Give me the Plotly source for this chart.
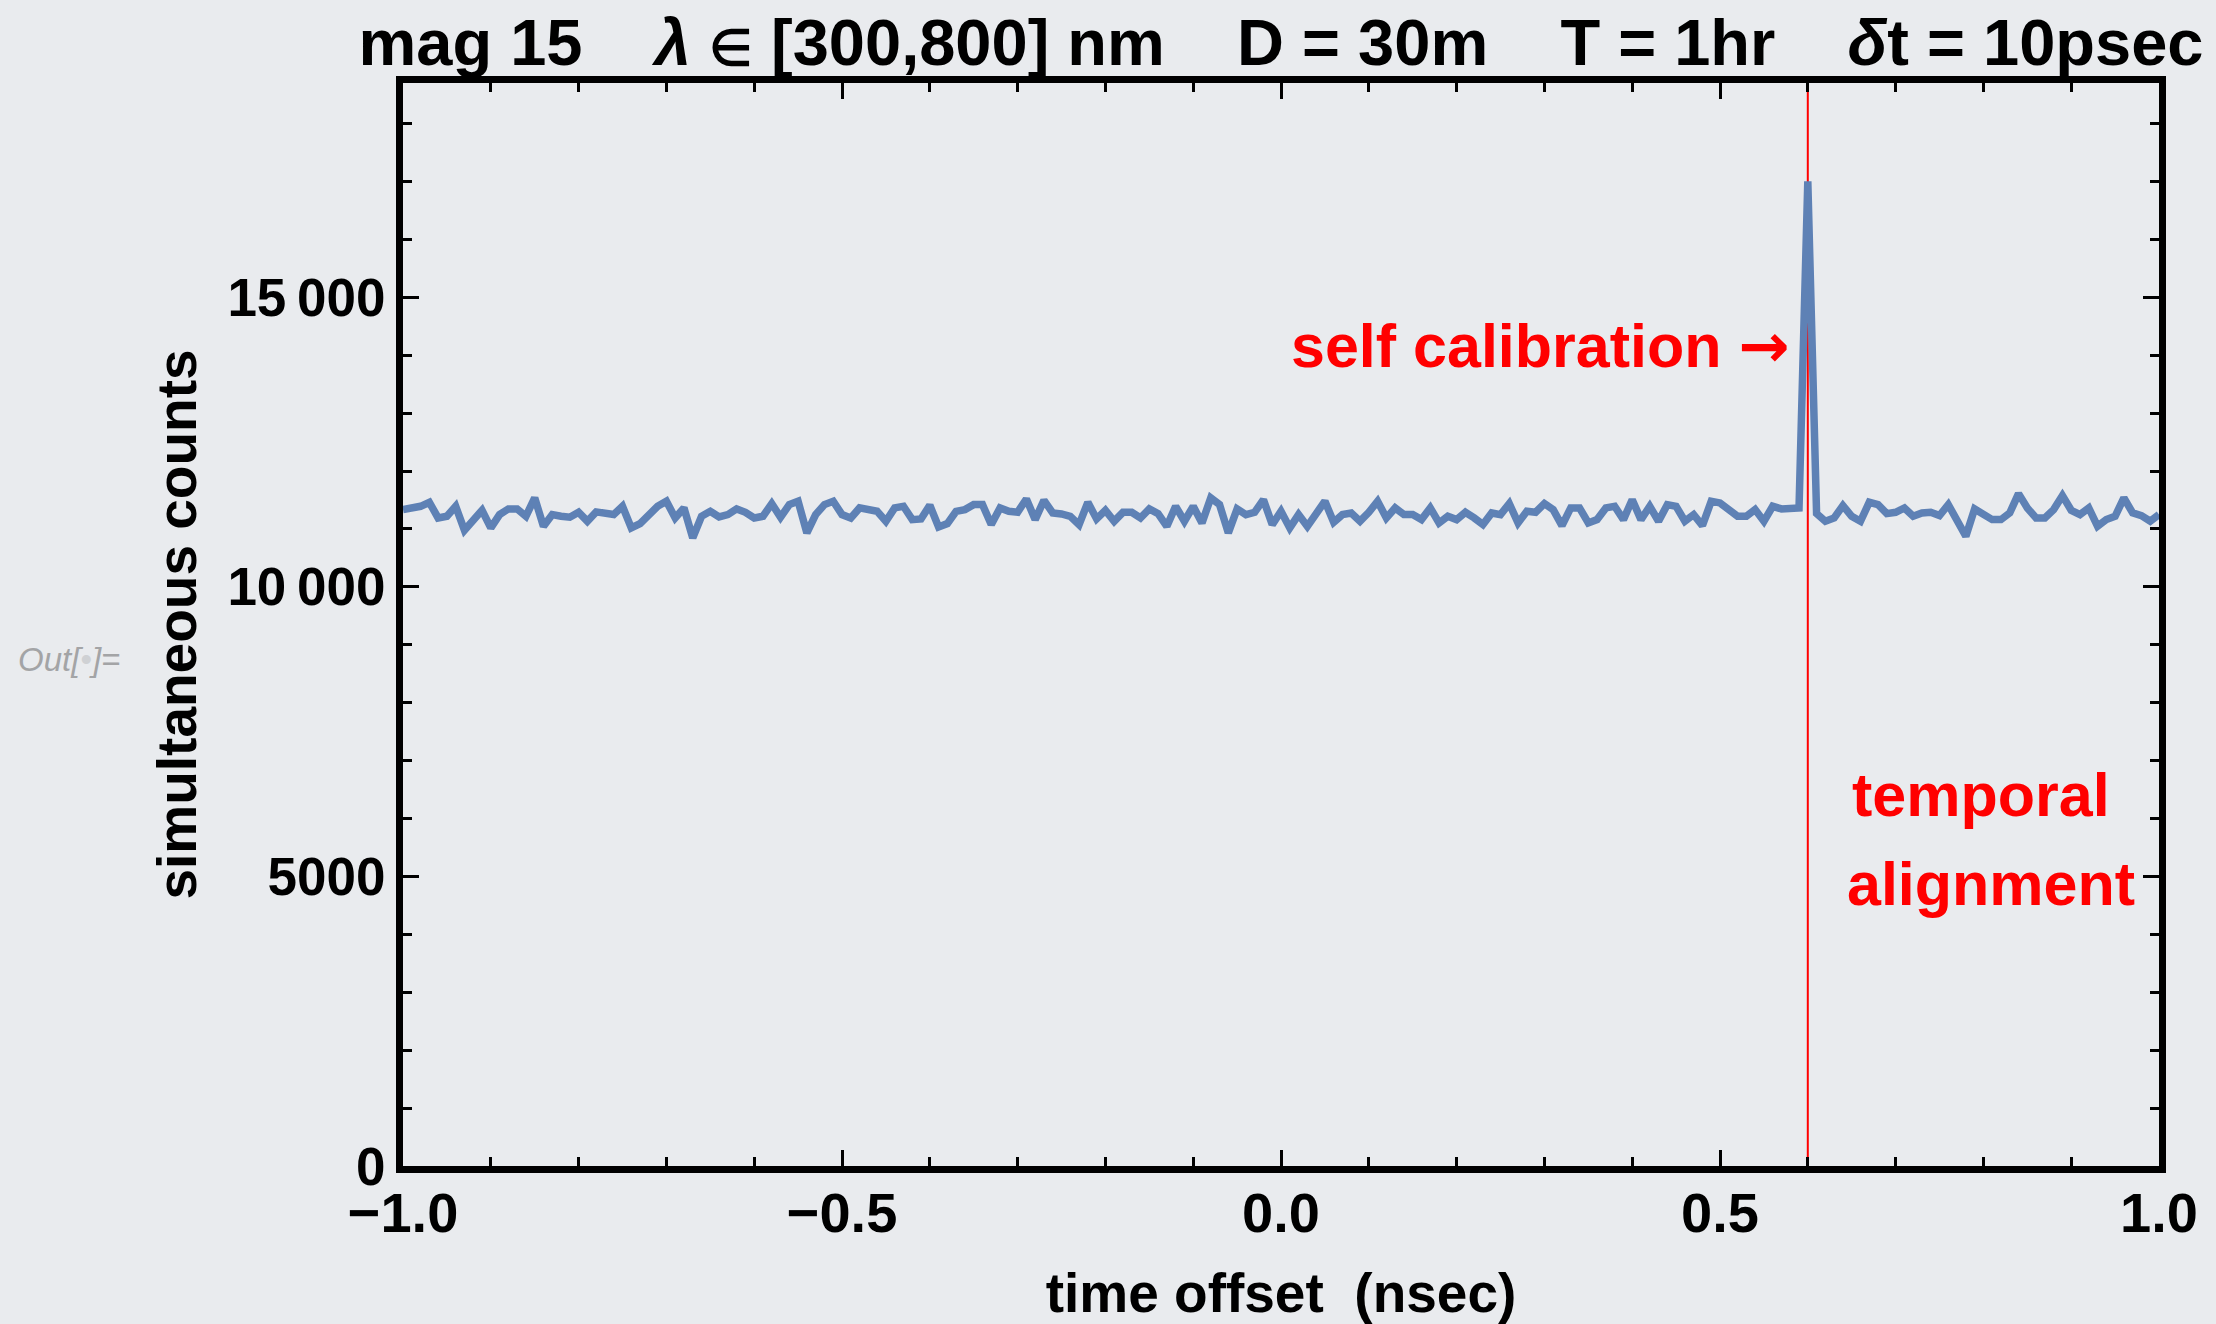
import plotly.graph_objects as go

# ---------------- data ----------------
# time-offset bins (nsec): 10 ps bins from -1.0 to +1.0 ns
bin_start = -1.0
bin_width = 0.01
n_bins = 201

counts = [
    # -1.00 .. -0.60
    11334, 11363, 11391, 11460, 11190, 11219, 11391, 10978, 11173, 11322,
    11018, 11248, 11345, 11345, 11219, 11535, 11046, 11248, 11219, 11202,
    11288, 11133, 11294, 11265, 11248, 11391, 11018, 11092, 11248, 11391,
    11478, 11190, 11363, 10845, 11219, 11305, 11207, 11248, 11345, 11288,
    11190,
    # -0.59 .. -0.21
    11219, 11437, 11202, 11420, 11478, 10932, 11248, 11420, 11478, 11248,
    11190, 11363, 11322, 11305, 11133, 11363, 11391, 11161, 11173, 11409,
    11035, 11092, 11305, 11334, 11420, 11420, 11075, 11363, 11305, 11288,
    11518, 11161, 11495, 11276, 11259, 11219, 11075, 11460, 11173,
    # -0.20 .. 0.19
    11322, 11133, 11288, 11288, 11190, 11345, 11265, 11046, 11391, 11133,
    11391, 11104, 11535, 11420, 10932, 11345, 11248, 11288, 11506, 11075,
    11305, 11018, 11248, 11046, 11276, 11478, 11115, 11248, 11276, 11133,
    11288, 11478, 11190, 11363, 11248, 11248, 11161, 11363, 11104, 11219,
    # 0.20 .. 0.59
    11161, 11288, 11190, 11075, 11276, 11248, 11437, 11104, 11305, 11288,
    11437, 11334, 11058, 11363, 11363, 11104, 11161, 11363, 11391, 11161,
    11506, 11161, 11391, 11133, 11420, 11391, 11133, 11248, 11058, 11478,
    11449, 11334, 11219, 11219, 11334, 11133, 11391, 11345, 11363, 11363,
    # 0.60 (calibration peak)
    17000,
    # 0.61 .. 1.00
    11265, 11133, 11190, 11403, 11219, 11133, 11460, 11420, 11265, 11288,
    11363, 11219, 11276, 11288, 11230, 11420, 11161, 10874, 11345, 11248,
    11161, 11161, 11276, 11610, 11363, 11190, 11190, 11334, 11575, 11322,
    11248, 11363, 11046, 11161, 11219, 11535, 11276, 11230, 11133, 11248,
]

time_offsets = [round(bin_start + bin_width * i, 2) for i in range(n_bins)]

calib_offset = 0.6          # nsec, marked temporal alignment
x_range = [-1.0, 1.0]
y_range = [0, 18700]

y_tick_vals = [0, 5000, 10000, 15000]
y_tick_text = ["0", "5000", "10\u2009000", "15\u2009000"]

GAP = "\u00a0" * 4
title_text = ("mag 15" + GAP + "<i>λ</i> <span style='font-size:50px'>∈</span> [300,800] nm" + GAP +
              "D = 30m" + GAP + "T = 1hr" + GAP + "<i>δ</i>t = 10psec")
x_title = "time offset\u00a0\u00a0(nsec)"
y_title = "simultaneous counts"

# ---------------- styling ----------------
FONT = "Liberation Sans, Arial, Helvetica, sans-serif"
BG = "#e9ebee"
LINE_BLUE = "#5e81b5"
RED = "#ff0000"

fig = go.Figure()

# temporal alignment marker (drawn under the data line)
fig.add_trace(go.Scatter(
    x=[calib_offset, calib_offset], y=y_range,
    mode="lines", line=dict(color=RED, width=2),
    hoverinfo="skip", showlegend=False,
))

fig.add_trace(go.Scatter(
    x=time_offsets, y=counts,
    mode="lines", line=dict(color=LINE_BLUE, width=7.5),
    showlegend=False,
))

axis_common = dict(
    showline=True, linewidth=7, linecolor="black", mirror="allticks",
    ticks="inside", tickwidth=3, tickcolor="black",
    showgrid=False, zeroline=False, automargin=False,
)

fig.update_xaxes(
    range=x_range, tick0=-1.0, dtick=0.5, tickformat=".1f", ticklen=16,
    ticklabelstandoff=-8,
    tickfont=dict(family=FONT, size=56, color="black", weight="bold"),
    minor=dict(ticks="inside", ticklen=9, tickwidth=3, tickcolor="black",
               tick0=0, dtick=0.1, showgrid=False),
    title=dict(text=x_title, standoff=36,
               font=dict(family=FONT, size=55, color="black", weight="bold")),
    **axis_common,
)
fig.update_yaxes(
    range=y_range, tickmode="array", tickvals=y_tick_vals, ticktext=y_tick_text,
    ticklen=16,
    tickfont=dict(family=FONT, size=53, color="black", weight="bold"),
    minor=dict(ticks="inside", ticklen=9, tickwidth=3, tickcolor="black",
               tick0=0, dtick=1000, showgrid=False),
    title=dict(text=y_title, standoff=16,
               font=dict(family=FONT, size=55, color="black", weight="bold")),
    **axis_common,
)

fig.update_layout(
    width=2216, height=1324,
    margin=dict(l=403, r=57, t=83, b=158, pad=0),
    paper_bgcolor=BG, plot_bgcolor="rgba(0,0,0,0)",
    showlegend=False,
    font=dict(family=FONT, color="black"),
    title=dict(text=title_text, x=0.5, xref="paper", xanchor="center",
               y=1 - 42 / 1324, yref="container", yanchor="middle",
               font=dict(family=FONT, size=65, color="black", weight="bold")),
)

red_font = dict(family=FONT, size=61, color=RED, weight="bold")
fig.add_annotation(x=0.582, y=14160, xref="x", yref="y",
                   text="self calibration <span style='font-family:DejaVu Sans'>→</span>",
                   showarrow=False, xanchor="right", yanchor="middle", font=red_font)
fig.add_annotation(x=0.797, y=6406, xref="x", yref="y", text="temporal",
                   showarrow=False, xanchor="center", yanchor="middle", font=red_font)
fig.add_annotation(x=0.8085, y=4870, xref="x", yref="y", text="alignment",
                   showarrow=False, xanchor="center", yanchor="middle", font=red_font)

fig.add_annotation(x=(17 - 403.5) / 1755, y=(1166 - 659) / 1083, xref="paper", yref="paper",
                   text="<i>Out[<span style='color:#cfd1d4'>•</span>]=</i>",
                   showarrow=False, xanchor="left", yanchor="middle",
                   font=dict(family=FONT, size=33, color="#a3a4a6"))

fig.write_html("out.html",
               config={"displayModeBar": False},
               post_script="document.body.style.margin='0px';document.body.style.overflow='hidden';")
